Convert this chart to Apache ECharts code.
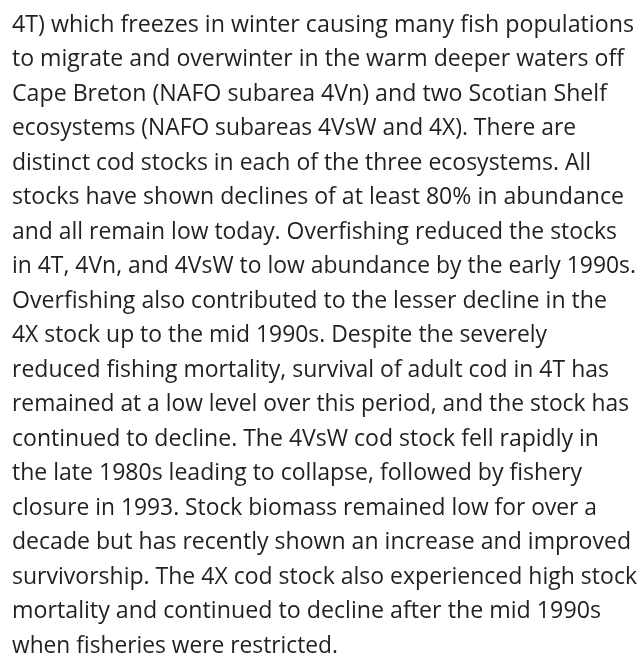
<!DOCTYPE html>
<html>
<head>
<meta charset="utf-8">
<script src="https://cdn.jsdelivr.net/npm/echarts@6/dist/echarts.min.js"></script>
<style>
html,body{margin:0;padding:0;background:#fff;}
#c{width:644px;height:658px;}
</style>
</head>
<body>
<div id="c"></div>
<script>
var lines = [
  "4T) which freezes in winter causing many fish populations",
  "to migrate and overwinter in the warm deeper waters off",
  "Cape Breton (NAFO subarea 4Vn) and two Scotian Shelf",
  "ecosystems (NAFO subareas 4VsW and 4X). There are",
  "distinct cod stocks in each of the three ecosystems. All",
  "stocks have shown declines of at least 80% in abundance",
  "and all remain low today. Overfishing reduced the stocks",
  "in 4T, 4Vn, and 4VsW to low abundance by the early 1990s.",
  "Overfishing also contributed to the lesser decline in the",
  "4X stock up to the mid 1990s. Despite the severely",
  "reduced fishing mortality, survival of adult cod in 4T has",
  "remained at a low level over this period, and the stock has",
  "continued to decline. The 4VsW cod stock fell rapidly in",
  "the late 1980s leading to collapse, followed by fishery",
  "closure in 1993. Stock biomass remained low for over a",
  "decade but has recently shown an increase and improved",
  "survivorship. The 4X cod stock also experienced high stock",
  "mortality and continued to decline after the mid 1990s",
  "when fisheries were restricted."
];

var lineRight = [634, 624, 607, 576, 591, 624, 617, 636, 607, 547, 609, 629, 599, 582, 597, 631, 637, 601, 338];

var fontSize = 24;
var font = fontSize + "px 'Open Sans'";
var cv = document.createElement('canvas').getContext('2d');
cv.font = font;

var left = 12, firstBase = 32, lineGap = 34.5;
var chart = echarts.init(document.getElementById('c'), null, {renderer: 'canvas'});
var elements = lines.map(function (t, i) {
  var w = cv.measureText(t).width;
  return {
    type: 'text',
    x: left,
    y: firstBase + i * lineGap - 0.29 * fontSize,
    scaleX: (lineRight[i] - left) / w,
    style: {
      text: t,
      font: font,
      fill: '#231f20',
      align: 'left',
      verticalAlign: 'middle'
    }
  };
});
chart.setOption({
  backgroundColor: '#ffffff',
  graphic: { elements: elements }
});
</script>
</body>
</html>
